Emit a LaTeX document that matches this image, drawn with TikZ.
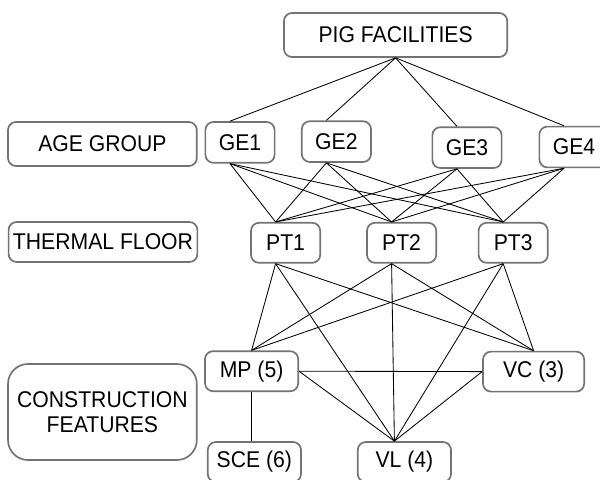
\documentclass[tikz,border=0pt]{standalone}
\usepackage{fontspec}
\setmainfont[FakeStretch=0.93]{Liberation Sans}
\usetikzlibrary{positioning}

\begin{document}
\begin{tikzpicture}[
box/.style={draw=black!55,line width=1.2pt,rounded corners=2mm,
  minimum width=1.73cm,minimum height=1.02cm,inner sep=0pt,
  align=center,font=\fontsize{16.2}{18}\selectfont},
level/.style={box,minimum width=4.72cm},
feature/.style={box,minimum width=2.33cm},
link/.style={line width=0.6pt}]
\useasboundingbox (0,0) rectangle (15,-12);

\node[box,minimum width=5.58cm,minimum height=1.1cm] (pig) at (9.89,-0.875) {PIG FACILITIES};

\node[level,minimum height=1.1cm] (age) at (2.56,-3.6) {AGE GROUP};
\node[box] (ge1) at (6.0,-3.56) {GE1};
\node[box] (ge2) at (8.41,-3.54) {GE2};
\node[box] (ge3) at (11.675,-3.69) {GE3};
\node[box] (ge4) at (14.35,-3.675) {GE4};

\node[level,minimum height=1.0cm] (thermal) at (2.575,-6.05) {THERMAL FLOOR};
\node[box,minimum height=1.0cm] (pt1) at (7.14,-6.07) {PT1};
\node[box,minimum height=1.0cm] (pt2) at (10.04,-6.07) {PT2};
\node[box,minimum height=1.0cm] (pt3) at (12.83,-6.07) {PT3};

\node[level,minimum height=2.4cm,rounded corners=5mm] (constr) at (2.56,-10.3) {CONSTRUCTION\\FEATURES};
\node[feature,minimum height=1.0cm] (mp) at (6.29,-9.28) {MP (5)};
\node[feature,minimum width=2.53cm,minimum height=1.0cm] (vc) at (13.34,-9.29) {VC (3)};
\node[feature,minimum height=1.0cm] (sce) at (6.36,-11.55) {SCE (6)};
\node[feature,minimum height=1.0cm] (vl) at (10.11,-11.55) {VL (4)};

\foreach \g in {ge1,ge2,ge3,ge4} {
  \draw[link] (pig.south) -- ([xshift=-2.5mm]\g.north);
  \foreach \p in {pt1,pt2,pt3}
    \draw[link] ([xshift=-2.5mm]\g.south) -- ([xshift=-2.5mm]\p.north);
}
\foreach \p in {pt1,pt2,pt3} {
  \draw[link] ([xshift=-2.5mm]\p.south) -- (mp.north);
  \draw[link] ([xshift=-2.5mm]\p.south) -- ([xshift=-2.5mm]vl.north);
  \draw[link] ([xshift=-2.5mm]\p.south) -- (vc.north);
}
\draw[link] (mp.east) -- (vc.west);
\draw[link] (mp.east) -- ([xshift=-2.5mm]vl.north);
\draw[link] (vc.west) -- ([xshift=-2.5mm]vl.north);
\draw[link] (mp.south) -- (mp.south |- sce.north);
\end{tikzpicture}
\end{document}
